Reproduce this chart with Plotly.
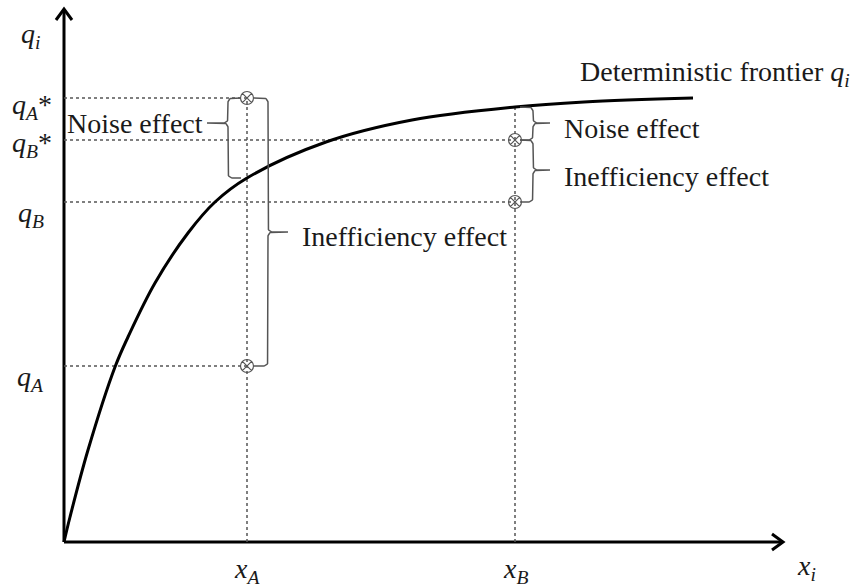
import numpy as np
import plotly.graph_objects as go

# ---- data (1 unit ~ 10 px) ----
frontier_x = [0, 0.6, 2.4, 5.1, 6.4, 9.1, 12.4, 15.1, 18.3, 26.2, 34.8, 45.1, 52.0, 62.9]
frontier_y = [0, 2.5, 9.2, 17.5, 20.5, 25.9, 30.9, 34.0, 36.4, 40.0, 42.2, 43.5, 44.0, 44.4]

firm_names = ["A", "B"]
x_firm = [18.3, 45.1]          # x_A, x_B
q_star = [44.4, 40.2]          # q_A*, q_B*
q_obs = [17.6, 34.0]           # q_A, q_B
q_front = [36.4, 43.5]         # frontier value at x_A, x_B

x_axis_end = 71.9
y_axis_end = 53.3

SERIF = "Liberation Serif"
FS = 28
GRAY = "#555555"

fig = go.Figure()

# axes with chevron arrow heads
fig.add_trace(go.Scatter(x=[0, x_axis_end], y=[0, 0], mode="lines",
                         line=dict(color="black", width=3), hoverinfo="skip"))
fig.add_trace(go.Scatter(x=[0, 0], y=[0, y_axis_end], mode="lines",
                         line=dict(color="black", width=3), hoverinfo="skip"))
fig.add_trace(go.Scatter(x=[x_axis_end - 1.1, x_axis_end, x_axis_end - 1.1],
                         y=[0.8, 0, -0.8], mode="lines",
                         line=dict(color="black", width=3), hoverinfo="skip"))
fig.add_trace(go.Scatter(x=[-0.8, 0, 0.8],
                         y=[y_axis_end - 1.1, y_axis_end, y_axis_end - 1.1], mode="lines",
                         line=dict(color="black", width=3), hoverinfo="skip"))

# dotted guide lines
for xf, qs, qo, qf in zip(x_firm, q_star, q_obs, q_front):
    for q in (qs, qo):
        fig.add_trace(go.Scatter(x=[0, xf], y=[q, q], mode="lines",
                                 line=dict(color=GRAY, width=1.5, dash="dot"), hoverinfo="skip"))
    fig.add_trace(go.Scatter(x=[xf, xf], y=[0, max(qs, qf)], mode="lines",
                             line=dict(color=GRAY, width=1.5, dash="dot"), hoverinfo="skip"))

# frontier
fig.add_trace(go.Scatter(x=frontier_x, y=frontier_y, mode="lines", line_shape="spline",
                         line=dict(color="black", width=3), hoverinfo="skip"))


def brace(xv, hook_x, y_top, y_bot, y_tip, tip_x, r=0.45):
    s = np.sign(hook_x - xv)
    d = np.sign(tip_x - xv)
    t = np.linspace(0, np.pi / 2, 8)
    xs, ys = [hook_x], [y_top]
    xs += list(xv + s * r * (1 - np.sin(t)))
    ys += list(y_top - r * (1 - np.cos(t)))
    xs += list(xv + d * r * (1 - np.cos(t)))
    ys += list(y_tip + r * (1 - np.sin(t)))
    xs += [tip_x, xv + d * r]
    ys += [y_tip, y_tip]
    xs += list(xv + d * r * (1 - np.cos(t[::-1])))
    ys += list(y_tip - r * (1 - np.sin(t[::-1])))
    xs += list(xv + s * r * (1 - np.sin(t[::-1])))
    ys += list(y_bot + r * (1 - np.cos(t[::-1])))
    xs += [hook_x]
    ys += [y_bot]
    return xs, ys


braces = [
    (16.4, 17.7, q_star[0], q_front[0], 41.9, 14.3),
    (20.4, 19.0, q_star[0], q_obs[0], 31.0, 22.4),
    (46.9, 45.6, q_front[1], q_star[1], 41.9, 48.6),
    (46.9, 45.6, q_star[1], q_obs[1], 37.2, 48.6),
]
for b in braces:
    bx, by = brace(*b)
    fig.add_trace(go.Scatter(x=bx, y=by, mode="lines",
                             line=dict(color=GRAY, width=1.5), hoverinfo="skip"))

# observed / noisy points
fig.add_trace(go.Scatter(x=[x_firm[0], x_firm[0], x_firm[1], x_firm[1]],
                         y=[q_star[0], q_obs[0], q_star[1], q_obs[1]],
                         mode="markers",
                         marker=dict(symbol="circle-x-open", size=13, color=GRAY,
                                     line=dict(width=1.2, color=GRAY)),
                         hoverinfo="skip"))

ann = []


def txt(x, y, text, xanchor="center", size=FS):
    ann.append(dict(x=x, y=y, xref="x", yref="y", text=text, showarrow=False,
                    xanchor=xanchor, yanchor="middle",
                    font=dict(family=SERIF, size=size, color="#1a1a1a")))


txt(14.1, 41.9, "Noise effect", "right")
txt(23.6, 30.6, "Inefficiency effect", "left")
txt(49.8, 41.4, "Noise effect", "left")
txt(49.8, 36.6, "Inefficiency effect", "left")
txt(51.4, 46.9, "Deterministic frontier <i>q<sub>i</sub></i>", "left")

txt(-3.4, 50.7, "<i>q<sub>i</sub></i>")
txt(-1.0, 43.6, "<i>q<sub>A</sub></i>*", "right")
txt(-1.0, 39.8, "<i>q<sub>B</sub></i>*", "right")
txt(-1.8, 32.8, "<i>q<sub>B</sub></i>", "right")
txt(-1.8, 16.4, "<i>q<sub>A</sub></i>", "right")
txt(x_firm[0], -2.8, "<i>x<sub>A</sub></i>")
txt(x_firm[1], -2.8, "<i>x<sub>B</sub></i>")
txt(74.2, -2.5, "<i>x<sub>i</sub></i>")

fig.update_layout(
    width=862, height=587,
    margin=dict(l=0, r=0, t=0, b=0),
    paper_bgcolor="white", plot_bgcolor="white",
    showlegend=False,
    font=dict(family=SERIF, size=FS),
    xaxis=dict(range=[-6.4, 79.8], visible=False, fixedrange=True),
    yaxis=dict(range=[-4.5, 54.2], visible=False, fixedrange=True),
    annotations=ann,
)

fig.write_html("out.html", post_script="document.body.style.margin='0';",
               config={"displayModeBar": False})
